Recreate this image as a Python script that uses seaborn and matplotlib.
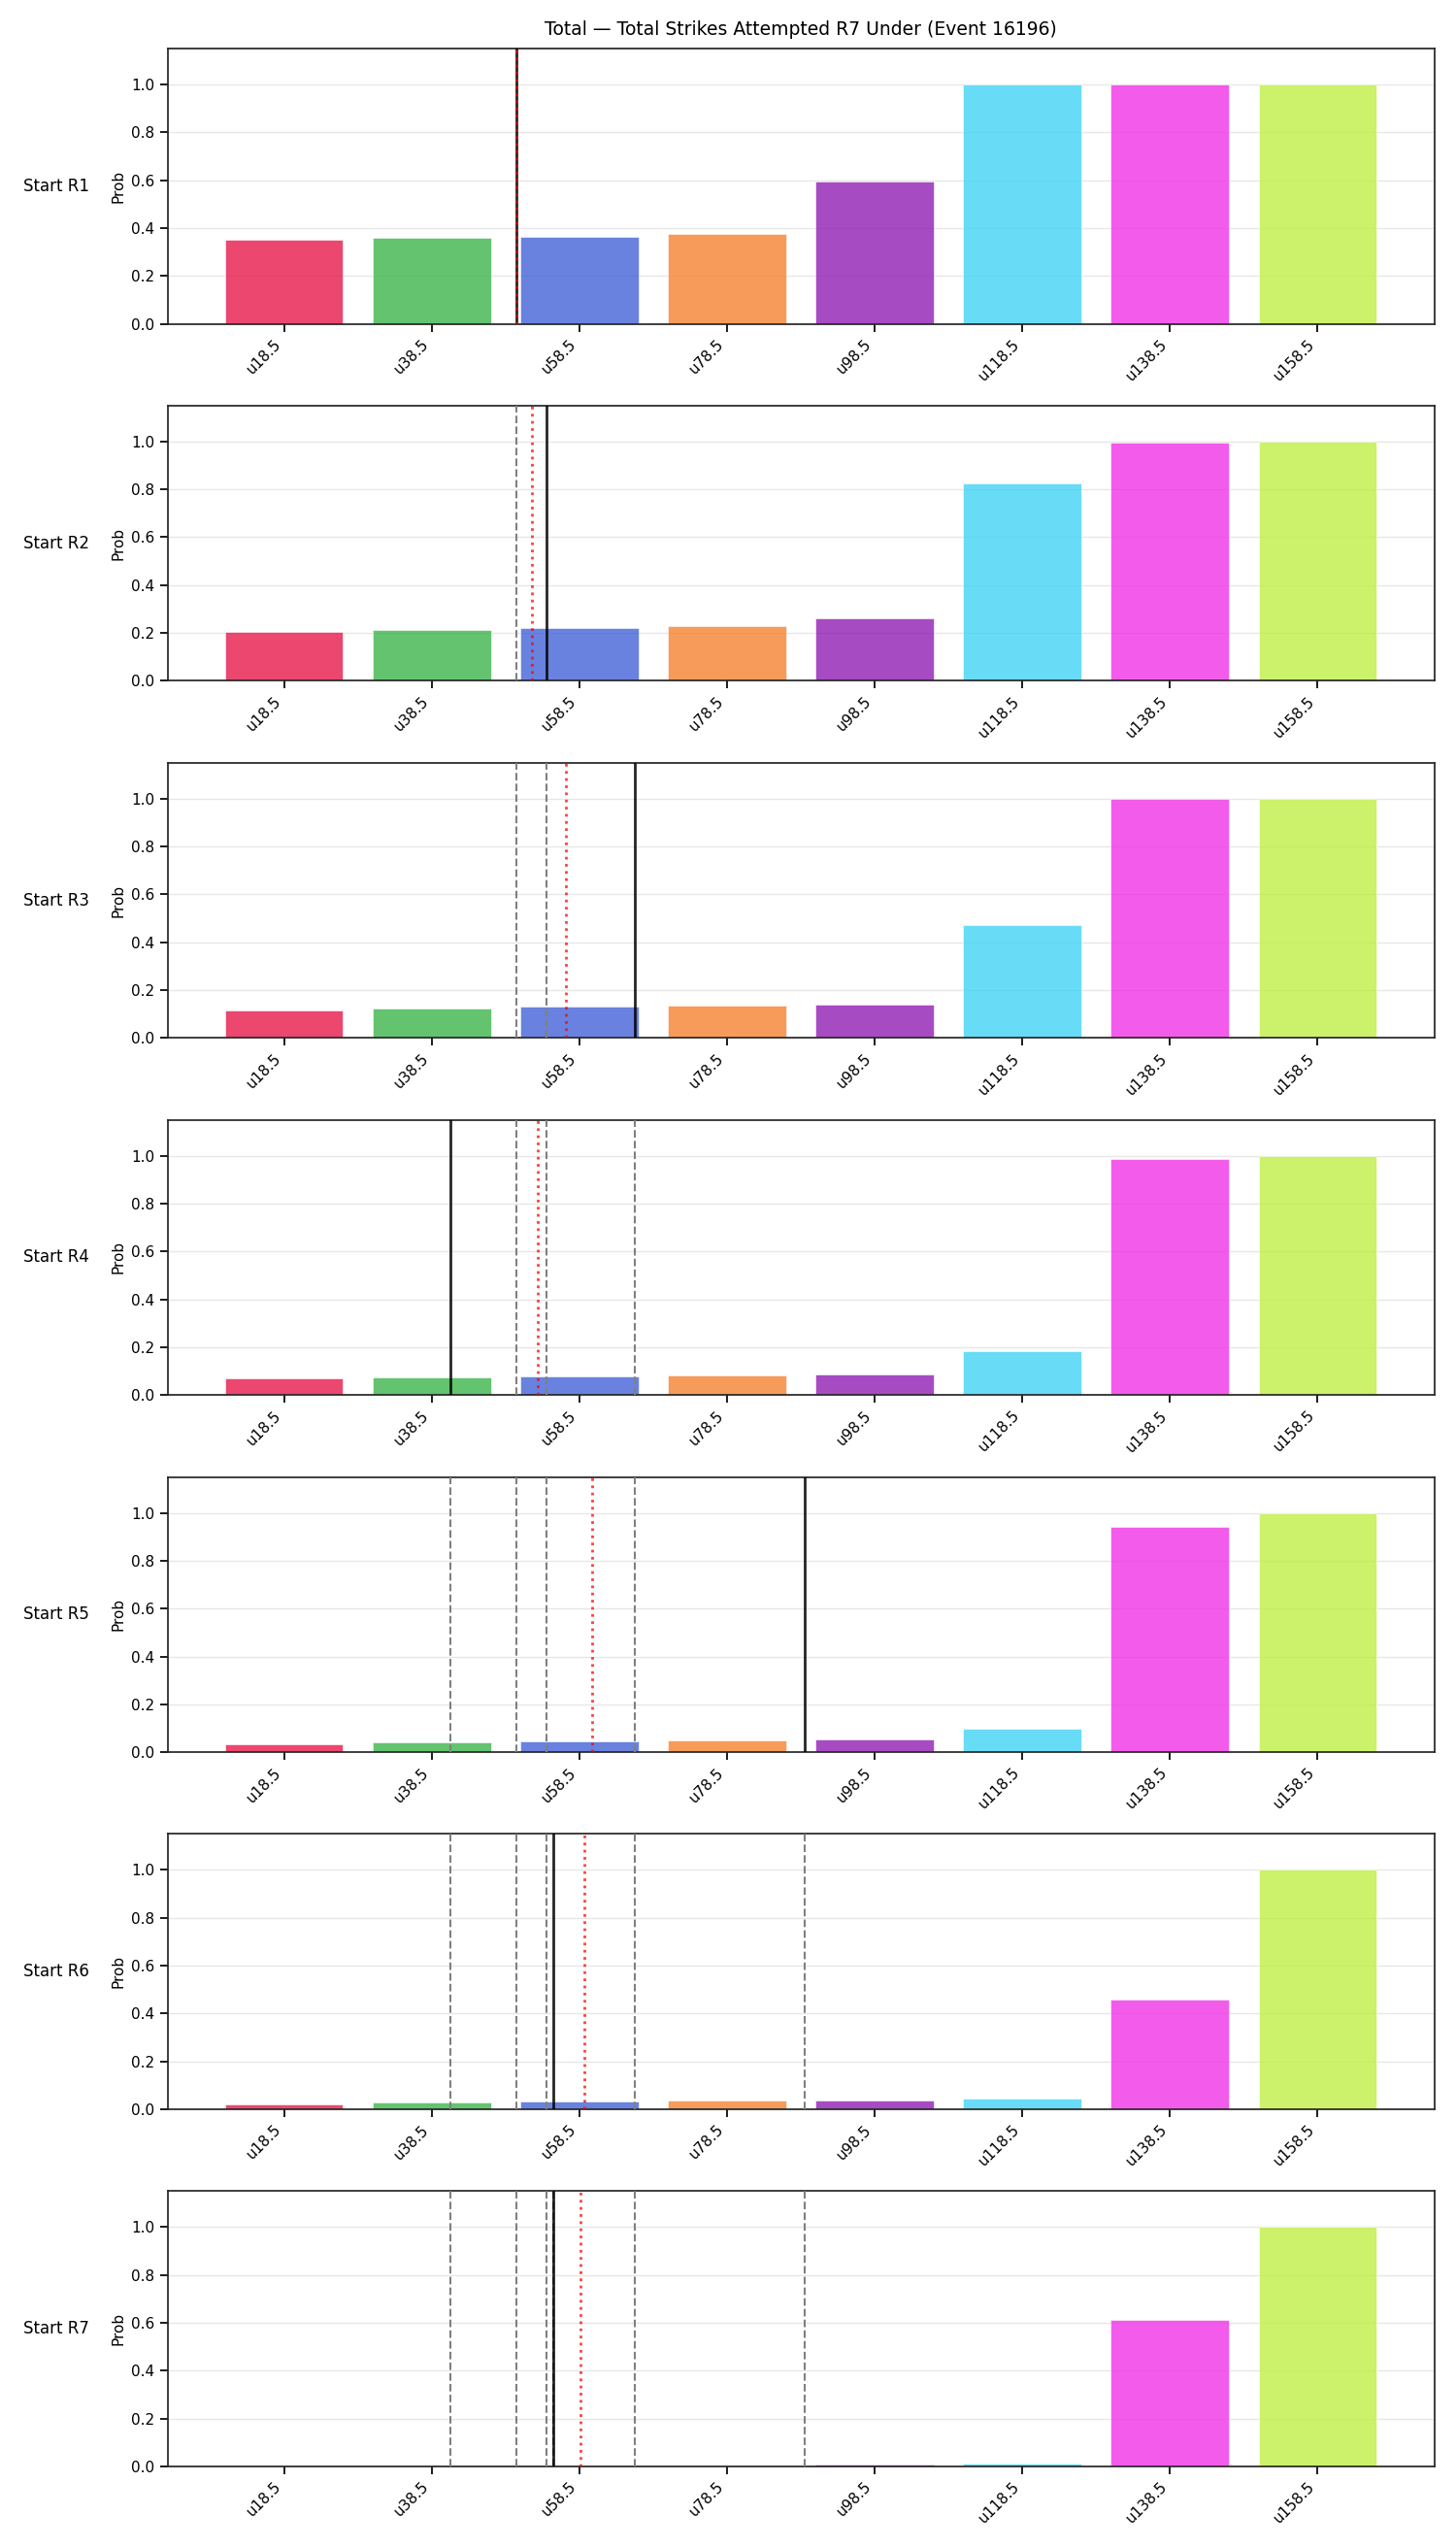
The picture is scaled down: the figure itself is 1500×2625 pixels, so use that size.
import matplotlib
matplotlib.use("Agg")
import matplotlib.pyplot as plt
import seaborn as sns
import pandas as pd

# bucket labels (under lines)
buckets = ["u18.5", "u38.5", "u58.5", "u78.5", "u98.5", "u118.5", "u138.5", "u158.5"]
bucket_lines = [18.5, 38.5, 58.5, 78.5, 98.5, 118.5, 138.5, 158.5]

rounds = ["Start R1", "Start R2", "Start R3", "Start R4", "Start R5", "Start R6", "Start R7"]

# probabilities per round start
prob_r1 = [0.352, 0.359, 0.363, 0.377, 0.595, 1.0, 1.0, 1.0]
prob_r2 = [0.205, 0.213, 0.221, 0.229, 0.261, 0.823, 0.995, 1.0]
prob_r3 = [0.115, 0.124, 0.132, 0.136, 0.140, 0.47, 0.998, 1.0]
prob_r4 = [0.070, 0.075, 0.080, 0.083, 0.087, 0.184, 0.988, 1.0]
prob_r5 = [0.035, 0.041, 0.045, 0.049, 0.055, 0.100, 0.94, 1.0]
prob_r6 = [0.022, 0.028, 0.032, 0.036, 0.036, 0.045, 0.46, 1.0]
prob_r7 = [0.0, 0.0, 0.002, 0.002, 0.007, 0.011, 0.612, 1.0]
probs = [prob_r1, prob_r2, prob_r3, prob_r4, prob_r5, prob_r6, prob_r7]

# strikes at each round start (black) and projection (red dotted)
actual = [50, 54, 66, 41, 89, 55, 55]
projected = [50, 52.1, 56.7, 52.8, 60.2, 59.2, 58.7]

colors = ["#e6194b", "#3cb44b", "#4363d8", "#f58231", "#911eb4", "#42d4f4", "#f032e6", "#bfef45"]


def to_pos(v):
    # value -> categorical x position between bucket centres
    step = bucket_lines[1] - bucket_lines[0]
    return (v - bucket_lines[0]) / step


sns.set_theme(style="ticks")
plt.rcParams["font.family"] = ["DejaVu Sans"]
plt.rcParams["text.color"] = "black"
plt.rcParams["axes.labelcolor"] = "black"
plt.rcParams["xtick.color"] = "black"
plt.rcParams["ytick.color"] = "black"

fig, axes = plt.subplots(len(rounds), 1, figsize=(15, 26.25), dpi=100)
fig.subplots_adjust(left=0.115, right=0.985, top=0.981, bottom=0.032, hspace=0.297)

for i, ax in enumerate(axes):
    df = pd.DataFrame({"bucket": buckets, "prob": probs[i]})
    sns.barplot(data=df, x="bucket", y="prob", hue="bucket", palette=colors,
                saturation=1, alpha=0.8, legend=False, ax=ax, width=0.8,
                edgecolor="white", linewidth=0.5)
    for j in range(i):
        ax.axvline(to_pos(actual[j]), color="gray", ls="--", lw=1.5, zorder=3)
    ax.axvline(to_pos(actual[i]), color="black", lw=2, alpha=0.85, zorder=4)
    ax.axvline(to_pos(projected[i]), color="red", ls=":", lw=2, alpha=0.75, zorder=5)
    ax.set_xlim(-0.79, 7.79)
    ax.set_ylim(0, 1.15)
    ax.set_xlabel("")
    ax.set_ylabel("Prob", fontsize=11)
    ax.grid(axis="y", color="#b0b0b0", alpha=0.3)
    ax.set_axisbelow(True)
    ax.tick_params(axis="both", labelsize=11)
    plt.setp(ax.get_xticklabels(), rotation=45, ha="right")
    ax.text(-0.062, 0.5, rounds[i], transform=ax.transAxes, ha="right", va="center", fontsize=12)

axes[0].set_title("Total — Total Strikes Attempted R7 Under (Event 16196)", fontsize=13.5, pad=10)

plt.savefig("out.png", dpi=100)
